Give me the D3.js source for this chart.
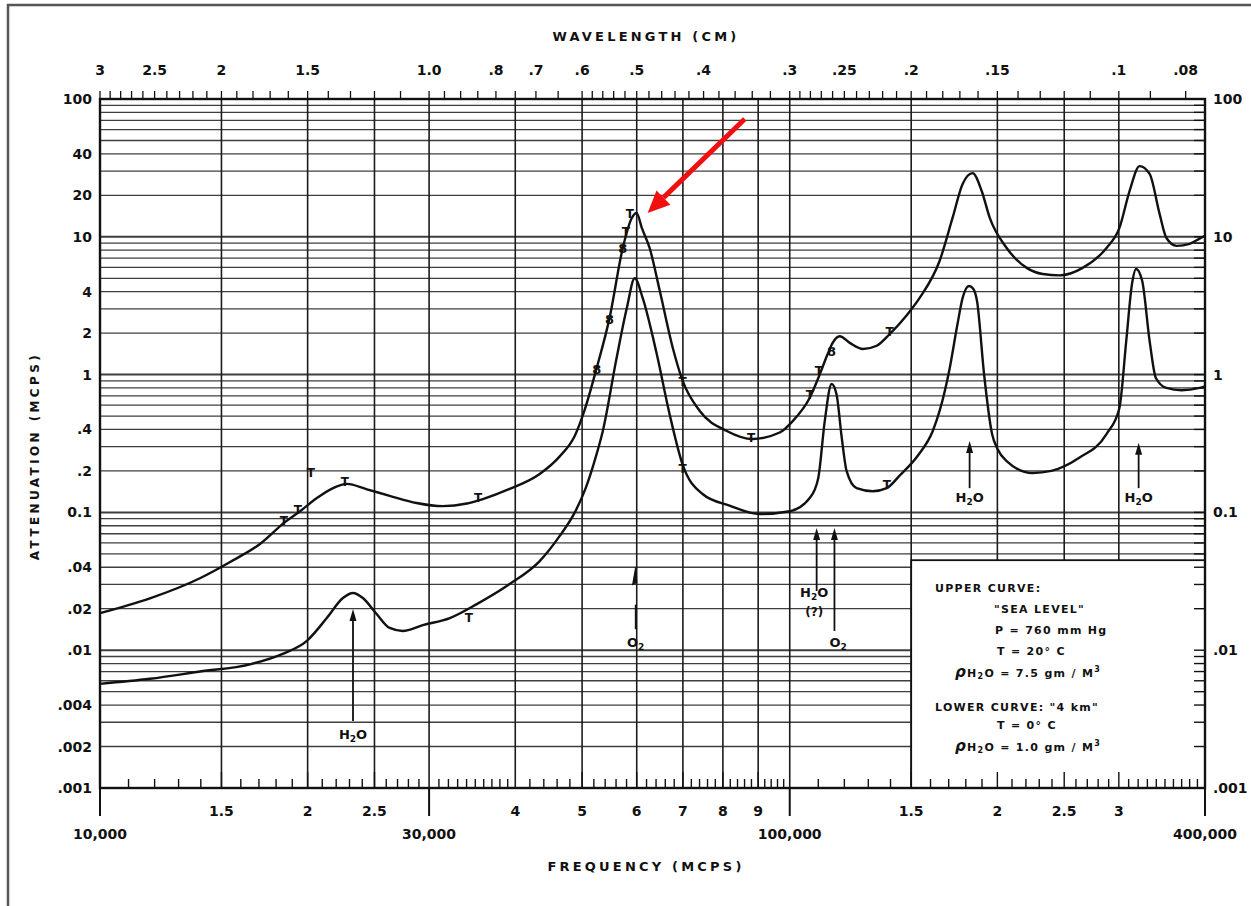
<!DOCTYPE html>
<html>
<head>
<meta charset="utf-8">
<script src="https://cdn.jsdelivr.net/npm/d3@7"></script>
<style>
  body { margin: 0; background: #fff; }
  svg text { font-family: "DejaVu Sans", sans-serif; fill: #111; }
</style>
</head>
<body>
<svg id="chart" width="1251" height="906"></svg>
<script>
// upper curve: "sea level"  (frequency in MCPS, attenuation)
var upperFreq = [10000, 11815, 13960, 15440, 17060, 18540, 19500, 20630, 21770, 22800, 24380, 26300, 28770, 31400, 34030, 35900, 39260, 43400, 46400, 48800, 50400, 52500, 54800, 57270, 59020, 59980, 61030, 62640, 64810, 67680, 69950, 74060, 81040, 88300, 96700, 101000, 106900, 110500, 113500, 115400, 118160, 122200, 127700, 133700, 139600, 147800, 154300, 164900, 172200, 178100, 184100, 189800, 195000, 206300, 220600, 232700, 246200, 265900, 287900, 300600, 311000, 321500, 332500, 343800, 351700, 363700, 380000, 392800, 400000];
var upperAtt  = [0.0186, 0.0238, 0.0333, 0.0437, 0.059, 0.085, 0.102, 0.127, 0.150, 0.161, 0.147, 0.132, 0.117, 0.111, 0.116, 0.125, 0.148, 0.19, 0.255, 0.36, 0.55, 1.12, 2.58, 8.3, 13.7, 14.9, 11.6, 8.3, 4.04, 1.56, 0.9, 0.545, 0.39, 0.341, 0.38, 0.46, 0.68, 1.0, 1.41, 1.70, 1.9, 1.70, 1.535, 1.62, 1.97, 2.7, 3.6, 6.67, 13.7, 24.2, 29.0, 21.5, 13.7, 8.3, 5.95, 5.37, 5.25, 5.95, 8.3, 11.6, 21.5, 32.6, 28.6, 14.6, 9.8, 8.6, 8.9, 9.7, 10.2];

// lower curve: "4 km"
var lowerFreq = [10000, 11815, 13960, 16500, 18400, 19950, 21320, 22500, 23270, 24050, 25180, 26300, 27470, 29380, 32150, 35180, 39260, 43400, 46400, 48800, 50600, 52300, 53580, 56100, 58050, 59600, 61200, 64150, 66950, 69900, 74750, 81800, 90450, 100000, 106900, 110000, 112400, 115000, 116900, 118970, 120900, 125000, 131900, 138240, 144300, 153500, 161200, 165000, 170500, 175000, 178100, 181900, 184500, 186900, 191300, 196500, 200000, 206300, 224800, 239500, 262500, 287900, 300600, 307500, 313500, 317800, 324300, 332500, 339500, 351700, 370000, 392800, 400000];
var lowerAtt  = [0.0057, 0.0062, 0.0070, 0.0079, 0.0094, 0.0117, 0.0171, 0.0239, 0.026, 0.0239, 0.0183, 0.0145, 0.0138, 0.0152, 0.0171, 0.0216, 0.0302, 0.0443, 0.0675, 0.1, 0.15, 0.25, 0.39, 1.32, 3.04, 5.0, 3.6, 1.41, 0.518, 0.224, 0.136, 0.112, 0.0973, 0.102, 0.127, 0.178, 0.46, 0.855, 0.72, 0.347, 0.2, 0.15, 0.1425, 0.15, 0.185, 0.26, 0.39, 0.55, 1.1, 2.3, 3.6, 4.4, 4.2, 3.4, 1.01, 0.37, 0.29, 0.236, 0.193, 0.2, 0.248, 0.37, 0.573, 1.75, 4.55, 5.84, 4.8, 1.75, 0.945, 0.8, 0.77, 0.8, 0.82];

// measured points marked on the curves
var tMarkFreq = [18480, 19360, 20220, 22640, 35330, 58660, 57850, 69950, 87900, 106900, 110200, 139600, 34260, 69950, 138240];
var tMarkAtt  = [0.0838, 0.102, 0.187, 0.161, 0.123, 14.2, 10.6, 0.86, 0.34, 0.69, 1.03, 1.97, 0.01656, 0.2, 0.153];
var oMarkFreq = [52500, 54800, 57270, 115000];
var oMarkAtt  = [1.1, 2.5, 8.3, 1.48];

// axis labels
var leftTicks  = [100, 40, 20, 10, 4, 2, 1, 0.4, 0.2, 0.1, 0.04, 0.02, 0.01, 0.004, 0.002, 0.001];
var leftLabels = ["100", "40", "20", "10", "4", "2", "1", ".4", ".2", "0.1", ".04", ".02", ".01", ".004", ".002", ".001"];
var rightTicks  = [100, 10, 1, 0.1, 0.01, 0.001];
var rightLabels = ["100", "10", "1", "0.1", ".01", ".001"];
var bottomSmall  = [15000, 20000, 25000, 40000, 50000, 60000, 70000, 80000, 90000, 150000, 200000, 250000, 300000];
var bottomSmallLabels = ["1.5", "2", "2.5", "4", "5", "6", "7", "8", "9", "1.5", "2", "2.5", "3"];
var bottomBig  = [10000, 30000, 100000, 400000];
var bottomBigLabels = ["10,000", "30,000", "100,000", "400,000"];
var topTicks  = [3, 2.5, 2, 1.5, 1.0, 0.8, 0.7, 0.6, 0.5, 0.4, 0.3, 0.25, 0.2, 0.15, 0.1, 0.08];
var topLabels = ["3", "2.5", "2", "1.5", "1.0", ".8", ".7", ".6", ".5", ".4", ".3", ".25", ".2", ".15", ".1", ".08"];
var vGrid = [15000, 20000, 25000, 30000, 40000, 50000, 60000, 70000, 80000, 90000, 100000, 150000, 200000, 250000, 300000];

// line annotations: frequency, arrow bottom, arrow top
var arrowFreq  = [23270, 109400, 116100, 182300, 320500];
var arrowFrom  = [0.00306, 0.0269, 0.0138, 0.150, 0.150];
var arrowTo    = [0.0199, 0.077, 0.077, 0.33, 0.32];

var svg = d3.select("#chart");
var pL = 100, pR = 1205, pT = 99, pB = 788;

var x = d3.scaleLog().domain([1e4, 4e5]).range([pL, pR]);
var y = d3.scaleLog().domain([0.001, 100]).range([pB, pT]);
// wavelength in cm = 30000 / frequency in MCPS
var xw = d3.scaleLog().domain([3, 0.075]).range([pL, pR]);

// outer frame of the scan
svg.append("path").attr("d", "M8,906 L8,5 L1251,5")
  .attr("fill", "none").attr("stroke", "#555").attr("stroke-width", 2.5);

// horizontal grid (log paper)
var hGrid = [];
for (var e = -3; e <= 1; e++) {
  for (var m = 1; m <= 9; m++) hGrid.push(m * Math.pow(10, e));
}
hGrid.push(100);
function isDecade(d) { return Math.abs(Math.log10(d) - Math.round(Math.log10(d))) < 1e-6; }
svg.append("g").selectAll("line").data(hGrid).join("line")
  .attr("x1", pL).attr("x2", pR)
  .attr("y1", d => y(d)).attr("y2", d => y(d))
  .attr("stroke", "#1c1c1c")
  .attr("stroke-opacity", 0.85)
  .attr("stroke-width", d => isDecade(d) ? 2 : 1.3);

svg.append("g").selectAll("line").data(vGrid).join("line")
  .attr("x1", d => x(d)).attr("x2", d => x(d))
  .attr("y1", pT).attr("y2", pB)
  .attr("stroke", "#1c1c1c").attr("stroke-width", 1.6);

// legend box covers the grid
var lgX = x(150000), lgY = y(0.045);
svg.append("rect").attr("x", lgX).attr("y", lgY)
  .attr("width", pR - lgX).attr("height", pB - lgY)
  .attr("fill", "#fff").attr("stroke", "#111").attr("stroke-width", 1.8);

// bottom minor ticks (inside)
var bMinor = d3.range(11000, 30000, 1000).concat(d3.range(31000, 40000, 1000), d3.range(42000, 100000, 2000), d3.range(110000, 400000, 10000));
svg.append("g").selectAll("line").data(bMinor).join("line")
  .attr("x1", d => x(d)).attr("x2", d => x(d))
  .attr("y1", pB).attr("y2", d => pB - (vGrid.indexOf(d) >= 0 ? 16 : 9))
  .attr("stroke", "#111").attr("stroke-width", 1.4);

// right minor ticks (inside)
svg.append("g").selectAll("line").data(hGrid).join("line")
  .attr("x1", pR).attr("x2", pR - 11)
  .attr("y1", d => y(d)).attr("y2", d => y(d))
  .attr("stroke", "#111").attr("stroke-width", 1.4);

// top wavelength ticks (outside, standing on the top line)
var wMinor = d3.range(3, 1, -0.1).concat(d3.range(1, 0.6, -0.05), d3.range(0.6, 0.3, -0.02), d3.range(0.3, 0.075, -0.01));
svg.append("g").selectAll("line").data(wMinor).join("line")
  .attr("x1", d => xw(d)).attr("x2", d => xw(d))
  .attr("y1", pT).attr("y2", pT - 8)
  .attr("stroke", "#111").attr("stroke-width", 1.3);

// plot border
svg.append("rect").attr("x", pL).attr("y", pT)
  .attr("width", pR - pL).attr("height", pB - pT)
  .attr("fill", "none").attr("stroke", "#111").attr("stroke-width", 2.4);

// big bottom ticks
svg.append("g").selectAll("line").data(bottomBig).join("line")
  .attr("x1", d => x(d)).attr("x2", d => x(d))
  .attr("y1", pB).attr("y2", pB + 28)
  .attr("stroke", "#111").attr("stroke-width", 2);

// axis labels
var lab = svg.append("g").attr("font-weight", "bold").attr("font-size", 14);
lab.selectAll(".l").data(leftTicks).join("text")
  .attr("x", pL - 8).attr("y", d => y(d)).attr("dy", "0.36em")
  .attr("text-anchor", "end").text((d, i) => leftLabels[i]);
lab.selectAll(".r").data(rightTicks).join("text")
  .attr("x", pR + 8).attr("y", d => y(d)).attr("dy", "0.36em")
  .text((d, i) => rightLabels[i]);
lab.selectAll(".bs").data(bottomSmall).join("text")
  .attr("x", d => x(d)).attr("y", pB + 28)
  .attr("text-anchor", "middle").text((d, i) => bottomSmallLabels[i]);
lab.selectAll(".bb").data(bottomBig).join("text")
  .attr("x", d => x(d)).attr("y", pB + 51)
  .attr("text-anchor", "middle").text((d, i) => bottomBigLabels[i]);
lab.selectAll(".t").data(topTicks).join("text")
  .attr("x", d => xw(d)).attr("y", pT - 24)
  .attr("text-anchor", "middle").text((d, i) => topLabels[i]);

// axis titles
svg.append("text").attr("x", 646).attr("y", 41).attr("text-anchor", "middle")
  .attr("font-weight", "bold").attr("font-size", 13).attr("letter-spacing", 3.2)
  .text("WAVELENGTH (CM)");
svg.append("text").attr("x", 646).attr("y", 871).attr("text-anchor", "middle")
  .attr("font-weight", "bold").attr("font-size", 13).attr("letter-spacing", 3.2)
  .text("FREQUENCY (MCPS)");
svg.append("text").attr("transform", "translate(39,456) rotate(-90)").attr("text-anchor", "middle")
  .attr("font-weight", "bold").attr("font-size", 12).attr("letter-spacing", 3.4)
  .text("ATTENUATION (MCPS)");

// curves
var line = d3.line().x(d => x(d[0])).y(d => y(d[1])).curve(d3.curveMonotoneX);
svg.append("path").datum(d3.zip(upperFreq, upperAtt))
  .attr("d", line).attr("fill", "none").attr("stroke", "#111").attr("stroke-width", 2.4);
svg.append("path").datum(d3.zip(lowerFreq, lowerAtt))
  .attr("d", line).attr("fill", "none").attr("stroke", "#111").attr("stroke-width", 2.4);

// data point marks
svg.append("g").selectAll("text").data(d3.zip(tMarkFreq, tMarkAtt)).join("text")
  .attr("x", d => x(d[0])).attr("y", d => y(d[1])).attr("dy", "0.2em")
  .attr("text-anchor", "middle").attr("font-size", 12).attr("font-weight", "bold").text("T");
svg.append("g").selectAll("text").data(d3.zip(oMarkFreq, oMarkAtt)).join("text")
  .attr("x", d => x(d[0])).attr("y", d => y(d[1])).attr("dy", "0.36em")
  .attr("text-anchor", "middle").attr("font-size", 13).attr("font-weight", "bold").text("8");

// upward arrows for absorption lines
var arr = svg.append("g");
arrowFreq.forEach(function (f, i) {
  var ax = x(f), y0 = y(arrowFrom[i]), y1 = y(arrowTo[i]);
  arr.append("line").attr("x1", ax).attr("x2", ax).attr("y1", y0).attr("y2", y1 + 6)
    .attr("stroke", "#111").attr("stroke-width", 1.8);
  arr.append("path").attr("d", `M${ax},${y1} L${ax - 3.5},${y1 + 12} L${ax + 3.5},${y1 + 12} Z`).attr("fill", "#111");
});
// 60 GHz O2 mark
var o2x = x(59800);
arr.append("line").attr("x1", o2x).attr("x2", o2x).attr("y1", y(0.0214)).attr("y2", y(0.0142))
  .attr("stroke", "#111").attr("stroke-width", 1.8);
arr.append("path").attr("d", `M${o2x},${y(0.040)} L${o2x - 3},${y(0.030)} L${o2x + 1},${y(0.031)} Z`)
  .attr("fill", "#111").attr("stroke", "#111").attr("stroke-width", 1.2);

function chem(g, cx, cy, a, sub, b) {
  var t = g.append("text").attr("x", cx).attr("y", cy).attr("text-anchor", "middle")
    .attr("font-size", 13).attr("font-weight", "bold");
  t.append("tspan").text(a);
  t.append("tspan").attr("font-size", 9).attr("dy", 3).text(sub);
  if (b) t.append("tspan").attr("dy", -3).text(b);
}
var lg = svg.append("g");
chem(lg, x(23270), y(0.00225), "H", "2", "O");
chem(lg, x(108500), y(0.0244), "H", "2", "O");
lg.append("text").attr("x", x(108500)).attr("y", y(0.0178)).attr("text-anchor", "middle")
  .attr("font-size", 12).attr("font-weight", "bold").text("(?)");
chem(lg, x(117500), y(0.0105), "O", "2", "");
chem(lg, x(59800), y(0.0105), "O", "2", "");
chem(lg, x(182300), y(0.119), "H", "2", "O");
chem(lg, x(320500), y(0.119), "H", "2", "O");

// legend text
var lt = svg.append("g").attr("font-size", 11).attr("letter-spacing", 1.3).attr("font-weight", 600);
function ltext(tx, ty, s) {
  return lt.append("text").attr("x", tx).attr("y", ty).text(s);
}
ltext(935, 592, "UPPER CURVE:");
ltext(994, 613, "\"SEA LEVEL\"");
ltext(995, 634, "P = 760 mm Hg");
ltext(997, 655, "T = 20° C");
var r1 = ltext(955, 677, "");
r1.append("tspan").attr("font-size", 15).attr("font-style", "italic").text("ρ");
r1.append("tspan").text("H");
r1.append("tspan").attr("font-size", 8).attr("dy", 2).text("2");
r1.append("tspan").attr("dy", -2).text("O = 7.5 gm / M");
r1.append("tspan").attr("font-size", 8).attr("dy", -5).text("3");
ltext(935, 711, "LOWER CURVE: \"4 km\"");
ltext(997, 729, "T = 0° C");
var r2 = ltext(955, 751, "");
r2.append("tspan").attr("font-size", 15).attr("font-style", "italic").text("ρ");
r2.append("tspan").text("H");
r2.append("tspan").attr("font-size", 8).attr("dy", 2).text("2");
r2.append("tspan").attr("dy", -2).text("O = 1.0 gm / M");
r2.append("tspan").attr("font-size", 8).attr("dy", -5).text("3");

// red highlight arrow at the 60 GHz peak
var tipX = x(62230), tipY = y(14.9), tailX = x(86050), tailY = y(71.6);
var ang = Math.atan2(tipY - tailY, tipX - tailX);
var hl = 22, hw = 10;
var bx = tipX - hl * Math.cos(ang), by = tipY - hl * Math.sin(ang);
svg.append("line").attr("x1", tailX).attr("y1", tailY).attr("x2", bx).attr("y2", by)
  .attr("stroke", "#f01010").attr("stroke-width", 5);
svg.append("path")
  .attr("d", `M${tipX},${tipY} L${bx + hw * Math.sin(ang)},${by - hw * Math.cos(ang)} L${bx - hw * Math.sin(ang)},${by + hw * Math.cos(ang)} Z`)
  .attr("fill", "#f01010");
</script>
</body>
</html>
